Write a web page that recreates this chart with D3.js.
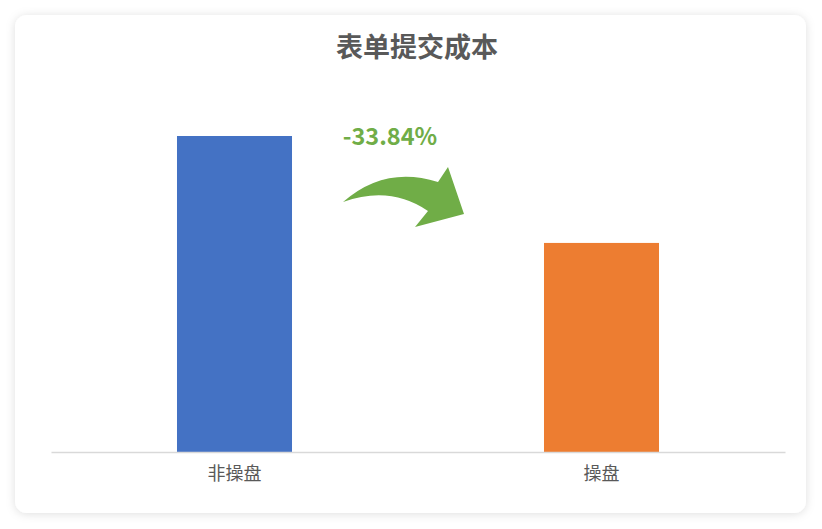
<!DOCTYPE html>
<html>
<head>
<meta charset="utf-8">
<script src="https://cdn.jsdelivr.net/npm/d3@7"></script>
<style>
  body { margin: 0; background: #ffffff; }
  text { font-family: "Noto Sans CJK SC", "Noto Sans", sans-serif; }
</style>
</head>
<body>
<script>
var width = 822;
var height = 529;

// data
var categories = ["非操盘", "操盘"];
var costValues = [100, 66.16];
var colors = ["#4472C4", "#ED7D31"];
var changeLabel = "-33.84%";
var title = "表单提交成本";

var svg = d3.select("body").append("svg")
    .attr("width", width)
    .attr("height", height);

// card shadow
var defs = svg.append("defs");
var filter = defs.append("filter").attr("id", "shadow")
    .attr("x", "-10%").attr("y", "-10%").attr("width", "120%").attr("height", "120%");
filter.append("feDropShadow")
    .attr("dx", 0).attr("dy", 1)
    .attr("stdDeviation", 5)
    .attr("flood-color", "#000")
    .attr("flood-opacity", 0.13);

svg.append("rect")
    .attr("x", 15).attr("y", 15)
    .attr("width", 791).attr("height", 498)
    .attr("rx", 12).attr("ry", 12)
    .attr("fill", "#fff")
    .attr("filter", "url(#shadow)");

// title
svg.append("text")
    .attr("x", 417).attr("y", 50)
    .attr("text-anchor", "middle")
    .attr("dominant-baseline", "middle")
    .attr("font-size", 27)
    .attr("font-weight", "bold")
    .attr("fill", "#595959")
    .text(title);

// scales
var x = d3.scaleBand()
    .domain(categories)
    .range([51, 785])
    .paddingInner(0.6866)
    .paddingOuter(0.3433);

var y = d3.scaleLinear()
    .domain([0, 100])
    .range([452, 136]);

// bars
svg.selectAll(".bar")
    .data(costValues)
    .enter().append("rect")
    .attr("class", "bar")
    .attr("x", function(d, i) { return x(categories[i]); })
    .attr("y", function(d) { return y(d); })
    .attr("width", x.bandwidth())
    .attr("height", function(d) { return y(0) - y(d); })
    .attr("fill", function(d, i) { return colors[i]; });

// x axis
var xAxis = svg.append("g")
    .attr("transform", "translate(0," + y(0) + ")")
    .call(d3.axisBottom(x).tickSize(0).tickPadding(15));
xAxis.select(".domain").attr("stroke", "#d9d9d9").attr("stroke-width", 1.5);
xAxis.selectAll("text")
    .attr("font-size", 18)
    .attr("fill", "#595959")
    .style("font-family", "'Noto Sans CJK SC', sans-serif");

// change annotation
svg.append("text")
    .attr("x", 390).attr("y", 145)
    .attr("text-anchor", "middle")
    .attr("font-size", 23.5)
    .attr("font-weight", "bold")
    .attr("fill", "#70AD47")
    .text(changeLabel);

// curved arrow
svg.append("path")
    .attr("d", "M343,202 Q385,165 438,182 L448,167 L464,214 L415,227 L428,211 Q390,185 343,202 Z")
    .attr("fill", "#70AD47");
</script>
</body>
</html>
